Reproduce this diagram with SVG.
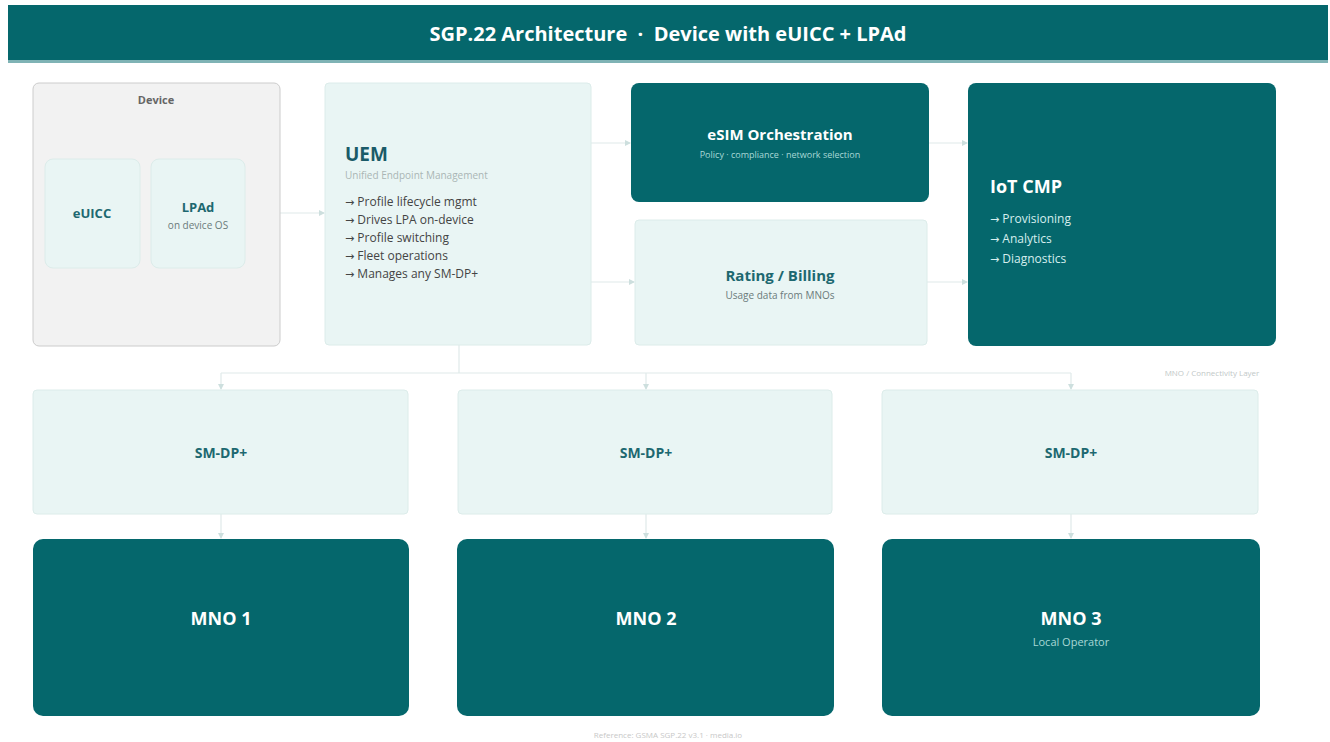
<svg xmlns="http://www.w3.org/2000/svg" width="1330" height="742" viewBox="0 0 1330 742">
<defs>
<style>
text{font-family:"Open Sans","Noto Sans","Liberation Sans",sans-serif}
.dark{fill:#05676c}
.light{fill:#e9f5f4;stroke:#dcecea;stroke-width:1}
.ttl{font-weight:700;fill:#1d6870;text-anchor:middle}
.wt{font-weight:700;fill:#ffffff;text-anchor:middle}
.sub{font-size:10px;fill:#6b7b7b;text-anchor:middle}
.bul{font-size:12px;fill:#444}
.wbul{font-size:12px;fill:#d6eeee}
.ar{font-family:"DejaVu Sans",sans-serif;font-size:11px}
.conn{fill:none;stroke:#dfeae9;stroke-width:1.2}
</style>
<marker id="ah" viewBox="0 0 6 6" refX="5" refY="3" markerWidth="5" markerHeight="5" orient="auto"><path d="M0,0 L6,3 L0,6 z" fill="#cddfde"/></marker>
</defs>
<rect width="1330" height="742" fill="#ffffff"/>
<g id="header">
<rect x="8" y="5" width="1320" height="57" fill="#05676c"/>
<rect x="8" y="60" width="1320" height="3" fill="#7fb3b5"/>
<text x="668" y="41" class="wt" font-size="20" xml:space="preserve">SGP.22 Architecture  ·  Device with eUICC + LPAd</text>
</g>
<g id="connectors">
<line class="conn" x1="245" y1="213" x2="324" y2="213" marker-end="url(#ah)"/>
<line class="conn" x1="591" y1="143" x2="630" y2="143" marker-end="url(#ah)"/>
<line class="conn" x1="591" y1="282" x2="634" y2="282" marker-end="url(#ah)"/>
<line class="conn" x1="929" y1="143" x2="967" y2="143" marker-end="url(#ah)"/>
<line class="conn" x1="927" y1="282" x2="967" y2="282" marker-end="url(#ah)"/>
<path class="conn" d="M459,345 V373 M221,373 H1071"/>
<line class="conn" x1="221" y1="373" x2="221" y2="389" marker-end="url(#ah)"/>
<line class="conn" x1="646" y1="373" x2="646" y2="389" marker-end="url(#ah)"/>
<line class="conn" x1="1071" y1="373" x2="1071" y2="389" marker-end="url(#ah)"/>
<line class="conn" x1="221" y1="514" x2="221" y2="538" marker-end="url(#ah)"/>
<line class="conn" x1="646" y1="514" x2="646" y2="538" marker-end="url(#ah)"/>
<line class="conn" x1="1071" y1="514" x2="1071" y2="538" marker-end="url(#ah)"/>
</g>
<g id="device">
<rect x="33" y="83" width="247" height="263" rx="6" fill="#f2f2f2" stroke="#cccccc"/>
<text x="156" y="104" font-size="11" font-weight="700" fill="#666" text-anchor="middle">Device</text>
</g>
<g id="euicc">
<rect x="45" y="159" width="95" height="109" rx="8" class="light"/>
<text x="92" y="218" class="ttl" font-size="13">eUICC</text>
</g>
<g id="lpad">
<rect x="151" y="159" width="94" height="109" rx="8" class="light"/>
<text x="198" y="212" class="ttl" font-size="13">LPAd</text>
<text x="198" y="229" class="sub">on device OS</text>
</g>
<g id="uem">
<rect x="325" y="83" width="266" height="262" rx="4" class="light"/>
<text x="345" y="161" font-size="19" font-weight="700" fill="#1a5b68">UEM</text>
<text x="345" y="179" font-size="10" fill="#a9b5b5">Unified Endpoint Management</text>
<text x="345" y="206" class="bul"><tspan class="ar">→</tspan> Profile lifecycle mgmt</text>
<text x="345" y="224" class="bul"><tspan class="ar">→</tspan> Drives LPA on-device</text>
<text x="345" y="242" class="bul"><tspan class="ar">→</tspan> Profile switching</text>
<text x="345" y="260" class="bul"><tspan class="ar">→</tspan> Fleet operations</text>
<text x="345" y="278" class="bul"><tspan class="ar">→</tspan> Manages any SM-DP+</text>
</g>
<g id="esim">
<rect x="631" y="83" width="298" height="119" rx="8" class="dark"/>
<text x="780" y="140" class="wt" font-size="15">eSIM Orchestration</text>
<text x="780" y="158" font-size="9" fill="#a8d8d6" text-anchor="middle">Policy · compliance · network selection</text>
</g>
<g id="rating">
<rect x="635" y="220" width="292" height="125" rx="4" class="light"/>
<text x="780" y="281" class="ttl" font-size="15">Rating / Billing</text>
<text x="780" y="299" class="sub" fill="#555">Usage data from MNOs</text>
</g>
<g id="iotcmp">
<rect x="968" y="83" width="308" height="263" rx="8" class="dark"/>
<text x="990" y="193" font-size="18" font-weight="700" fill="#ffffff">IoT CMP</text>
<text x="990" y="223" class="wbul"><tspan class="ar">→</tspan> Provisioning</text>
<text x="990" y="243" class="wbul"><tspan class="ar">→</tspan> Analytics</text>
<text x="990" y="263" class="wbul"><tspan class="ar">→</tspan> Diagnostics</text>
</g>
<text x="1212" y="376" font-size="8" fill="#c2c8c8" text-anchor="middle">MNO / Connectivity Layer</text>
<g id="smdp1">
<rect x="33" y="390" width="375" height="124" rx="4" class="light"/>
<text x="221" y="458" class="ttl" font-size="14">SM-DP+</text>
</g>
<g id="smdp2">
<rect x="458" y="390" width="374" height="124" rx="4" class="light"/>
<text x="646" y="458" class="ttl" font-size="14">SM-DP+</text>
</g>
<g id="smdp3">
<rect x="882" y="390" width="376" height="124" rx="4" class="light"/>
<text x="1071" y="458" class="ttl" font-size="14">SM-DP+</text>
</g>
<g id="mno1">
<rect x="33" y="539" width="376" height="177" rx="10" class="dark"/>
<text x="221" y="625" class="wt" font-size="18">MNO 1</text>
</g>
<g id="mno2">
<rect x="457" y="539" width="377" height="177" rx="10" class="dark"/>
<text x="646" y="625" class="wt" font-size="18">MNO 2</text>
</g>
<g id="mno3">
<rect x="882" y="539" width="378" height="177" rx="10" class="dark"/>
<text x="1071" y="625" class="wt" font-size="18">MNO 3</text>
<text x="1071" y="646" font-size="11" fill="#a8d8d6" text-anchor="middle">Local Operator</text>
</g>
<text x="668" y="738" font-size="8" fill="#c8c8c8" text-anchor="middle">Reference: GSMA SGP.22 v3.1 · media.io</text>
</svg>
